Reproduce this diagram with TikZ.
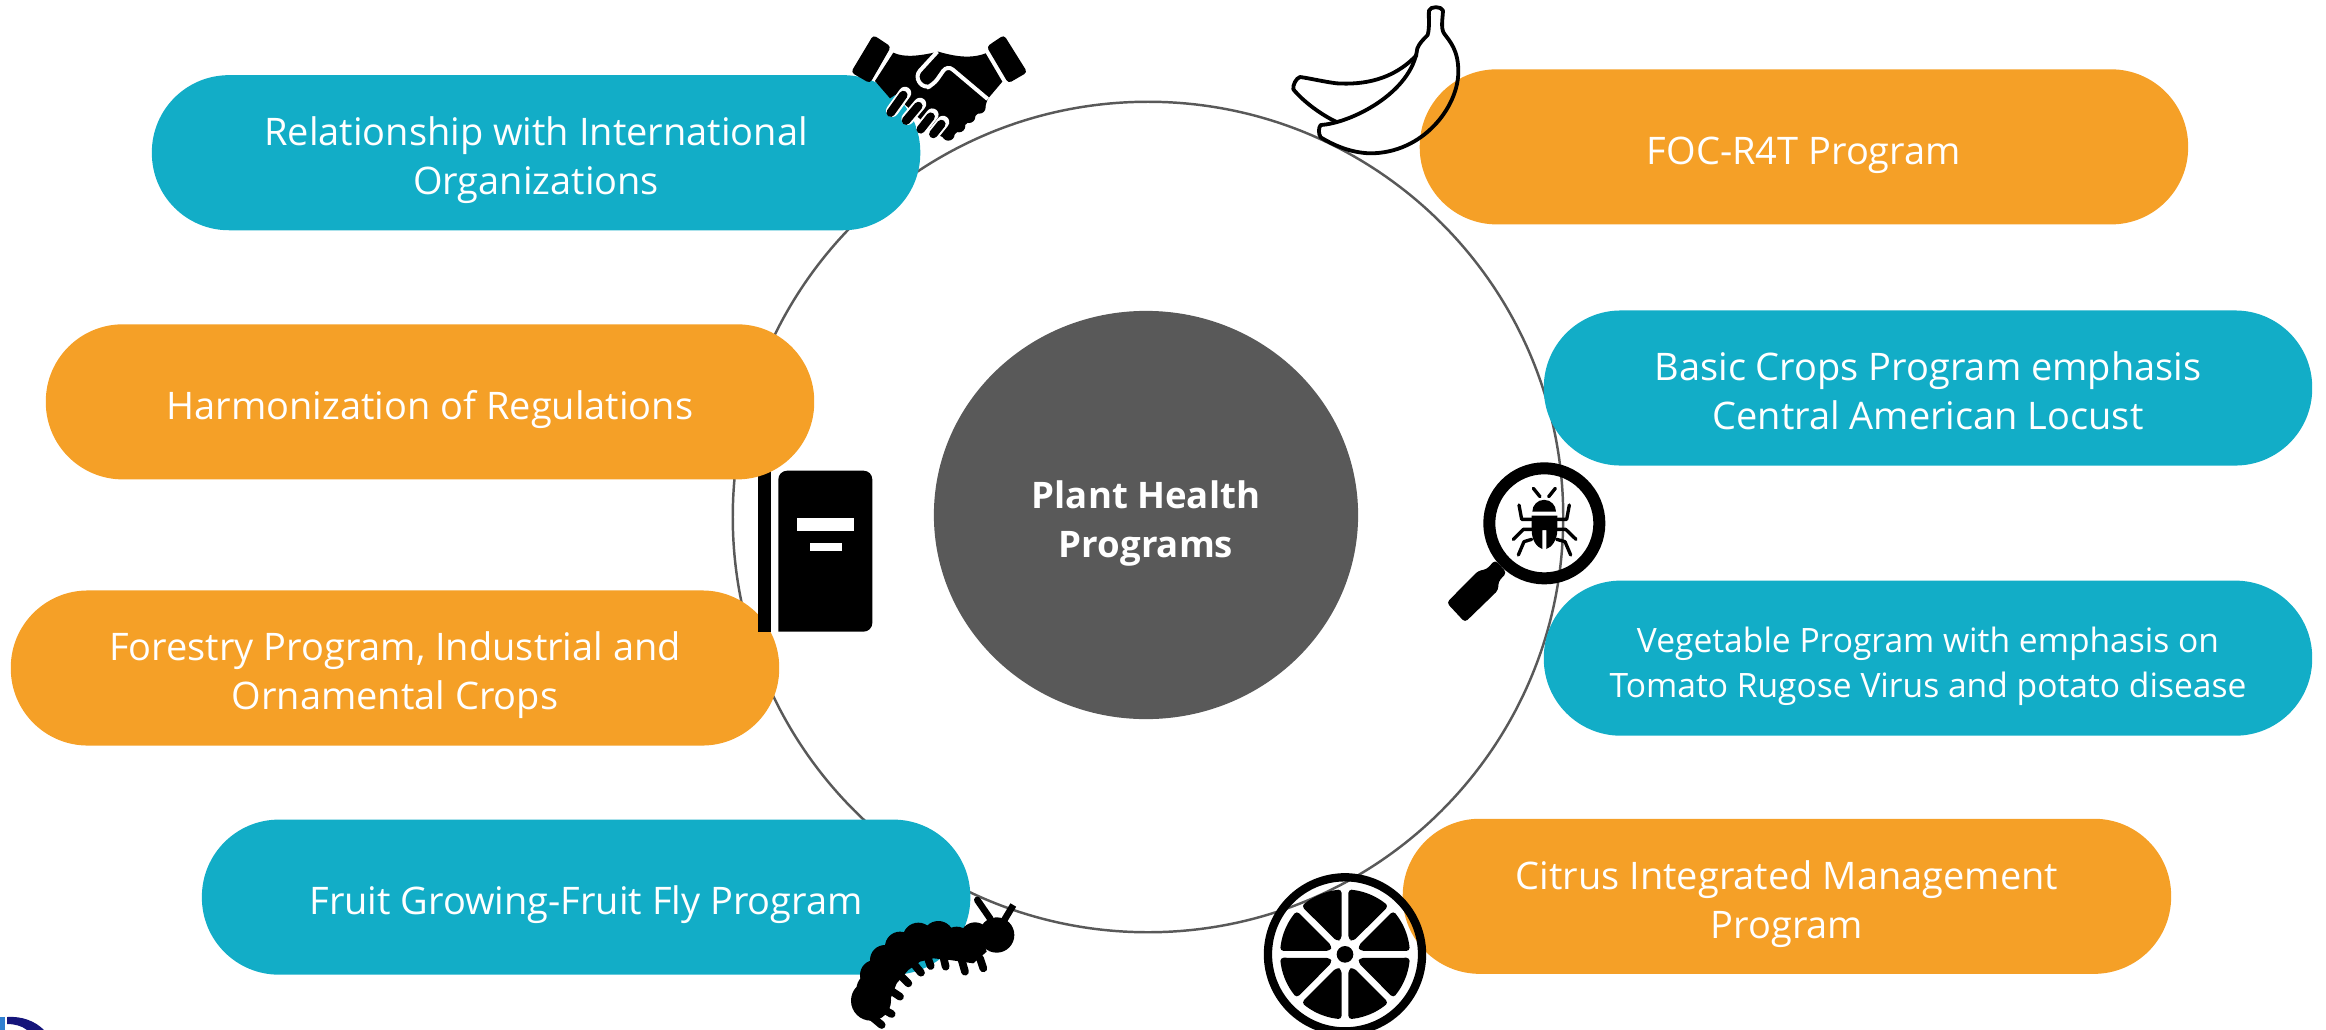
\documentclass[tikz,border=0pt]{standalone}
\usepackage{fontspec}
\setmainfont{Open Sans}
\usetikzlibrary{positioning}
\usetikzlibrary{shapes.geometric}
\definecolor{pillblue}{HTML}{12ADC7}
\definecolor{pillorange}{HTML}{F5A027}
\definecolor{hubgray}{HTML}{595959}
\definecolor{logonavy}{HTML}{14147A}
\definecolor{logoblue}{HTML}{2F7FD0}
\begin{document}
\begin{tikzpicture}[
x=0.01cm, y=-0.01cm,
pill/.style={rectangle, rounded corners=7.7mm, minimum width=7.68cm, minimum height=1.55cm, inner sep=0pt, outer sep=0pt, text=white, align=center, font=\fontsize{10.8}{13.9}\selectfont, execute at begin node={\rule{0pt}{12.5pt}}},
tealpill/.style={pill, fill=pillblue},
orangepill/.style={pill, fill=pillorange},
twolines/.style={execute at begin node={\rule{0pt}{26.4pt}}},
hub/.style={ellipse, fill=hubgray, minimum width=4.24cm, minimum height=4.08cm, inner sep=0pt, text=white, align=center, font=\fontsize{10.4}{13.9}\selectfont\bfseries, twolines},
ringline/.style={circle, draw=hubgray, line width=0.7pt, minimum size=8.3cm, inner sep=0pt},
icon/.style={line cap=round, line join=round},
]
\useasboundingbox (0,0) rectangle (2326,1030);

\node[ringline] (ring) at (1148,517) {};
\node[hub] (plant) at (1146,515) {Plant Health\\Programs};

% logo cut off by the page
\fill[logoblue] (0,1017) rectangle (5,1030);
\fill[logonavy] (7,1017) .. controls (22,1016) and (35,1021) .. (44,1030) -- (27,1030) .. controls (22,1026) and (15,1024) .. (7,1024) -- cycle;

\node[orangepill, twolines] (forest) at (395,668) {Forestry Program, Industrial and\\Ornamental Crops};

% book
\begin{scope}[shift={(740,460)}, scale=1/3]
\fill (55,32) rectangle (92,515);
\fill[rounded corners=2.5pt] (115,515) -- (397,515) -- (397,32) -- (115,32) [sharp corners] -- cycle;
\fill[white] (170,175) rectangle (342,212);
\fill[white] (210,250) rectangle (305,272);
\end{scope}

\node[orangepill] (harmon) [above=1.11cm of forest, xshift=3.5mm] {Harmonization of Regulations};
\node[tealpill, twolines] (relation) [above=0.94cm of harmon, xshift=10.6mm] {Relationship with International\\Organizations};
\node[tealpill] (fruit) [below=0.74cm of forest, xshift=19.1mm] {Fruit Growing-Fruit Fly Program};

\node[tealpill, execute at begin node={\rule{0pt}{23.9pt}}] (basic) at (1928,388) {Basic Crops Program emphasis\\Central American Locust};
\node[tealpill, execute at begin node={\rule{0pt}{24.4pt}}, font=\fontsize{9.55}{12.8}\selectfont] (veg) [below=1.15cm of basic] {Vegetable Program with emphasis on\\Tomato Rugose Virus and potato disease};
\node[orangepill] (foc) [above=0.86cm of basic, xshift=-12.4mm] {FOC-R4T Program};
\node[orangepill, twolines] (citrus) [below=0.83cm of veg, xshift=-14.1mm] {Citrus Integrated Management\\Program};

% handshake
\begin{scope}[shift={(820,0)}, scale=1/3]
\fill[rounded corners=1pt] (160,105) -- (213,140) -- (150,250) -- (93,217) -- cycle;
\fill[rounded corners=1pt] (552,105) -- (500,140) -- (565,250) -- (622,217) -- cycle;
\fill (220,158) .. controls (250,172) and (290,170) .. (355,155) .. controls (400,168) and (450,178) .. (497,160) -- (547,245) -- (503,297) -- (495,322) -- (385,420) -- (345,400) -- (225,285) -- (210,295) -- (165,243) -- cycle;
\foreach \cx/\cy in {478/322, 447/350, 417/378, 385/403}
  \fill (\cx,\cy) circle[radius=0.19cm];
\draw[white, line width=0.4mm, rounded corners=2pt] (352,155) -- (285,228) -- (312,266) -- (340,255) -- (382,195) -- (503,297);
\foreach \ax/\ay/\bx/\by in {212/338/250/285, 258/362/295/318, 302/388/332/350, 340/402/364/372} {
  \draw[white, line width=1.25mm, line cap=round] (\ax+5,\ay-6) -- (\bx+5,\by-6);
  \draw[line width=0.85mm, line cap=round] (\ax,\ay) -- (\bx,\by);
}
\end{scope}

% banana
\begin{scope}[shift={(1280,0)}, scale=1/3]
\draw[icon, line width=0.38mm] (443,105) .. controls (450,80) and (445,50) .. (447,32) .. controls (450,18) and (485,18) .. (489,32) .. controls (488,55) and (482,85) .. (492,100) .. controls (510,125) and (535,150) .. (535,215) .. controls (535,320) and (430,460) .. (270,460) .. controls (210,458) and (160,435) .. (122,412) .. controls (115,400) and (115,385) .. (122,375) .. controls (210,370) and (395,280) .. (412,145) .. controls (418,130) and (430,118) .. (443,105) -- cycle;
\draw[icon, line width=0.38mm] (410,165) .. controls (340,240) and (250,255) .. (170,250) .. controls (130,245) and (90,235) .. (60,231) .. controls (48,235) and (38,255) .. (40,268) .. controls (70,305) and (125,345) .. (168,365);
\end{scope}

% magnifier with bug
\begin{scope}[shift={(1420,450)}, scale=1/3]
\draw[line width=1.2mm] (373,220) circle[radius=1.65cm];
\fill[rounded corners=1pt] (225,330) -- (260,368) -- (235,395) -- (235,420) -- (135,517) -- (80,458) -- (175,362) -- (200,358) -- cycle;
\fill (337,185) arc[start angle=180, end angle=0, radius=0.355cm] -- cycle;
\fill (335,197) -- (412,197) -- (412,240) .. controls (412,270) and (395,292) .. (379,297) -- (379,240) -- (367,240) -- (367,297) .. controls (350,292) and (335,270) .. (335,240) -- cycle;
\draw[icon, line width=0.95pt] (340,115) -- (360,140);
\draw[icon, line width=0.95pt] (406,115) -- (386,140);
\draw[icon, line width=0.95pt] (297,165) -- (305,208) -- (335,208);
\draw[icon, line width=0.95pt] (448,165) -- (440,208) -- (412,208);
\draw[icon, line width=0.95pt] (280,268) -- (310,238) -- (335,238);
\draw[icon, line width=0.95pt] (468,268) -- (437,238) -- (412,238);
\draw[icon, line width=0.95pt] (295,315) -- (312,275) -- (335,268);
\draw[icon, line width=0.95pt] (452,315) -- (435,275) -- (410,268);
\end{scope}

% citrus slice
\begin{scope}[shift={(1250,860)}, scale=1/3]
\draw[line width=0.83mm] (285,283) circle[radius=2.31cm];
\fill (285,283) circle[radius=0.25cm];
\foreach \a in {0,45,...,315}
  \fill[shift={(285,283)}, rounded corners=1pt] (\a+13:46) -- plot[domain=\a+3:\a+42, samples=8] (\x:195) -- (\a+32:46) -- cycle;
\end{scope}

% caterpillar
\begin{scope}[shift={(840,880)}, scale=1/3]
\foreach \cx/\cy/\r in {470/165/0.53, 405/172/0.45, 350/185/0.45, 295/170/0.47, 235/175/0.47, 180/200/0.45, 135/240/0.45, 105/285/0.45, 95/325/0.45, 93/362/0.6}
  \fill (\cx,\cy) circle[radius=\r cm];
\fill (440,215) -- (400,250) -- (330,240) -- (280,235) -- (240,245) -- (205,270) -- (170,310) -- (150,360) -- (130,405) -- (70,380) -- (90,250) -- (235,150) -- (420,150) -- cycle;
\foreach \ax/\ay/\bx/\by in {430/265/420/235, 375/275/365/240, 317/260/310/230, 272/258/262/230, 243/278/220/250, 205/310/180/285, 180/350/150/330, 155/402/125/385, 125/435/95/410}
  \draw[line width=2.2pt, line cap=round] (\ax,\ay) -- (\bx,\by);
\draw[line width=1.9pt, line cap=round] (412,60) -- (450,115);
\draw[line width=1.9pt] (520,75) -- (490,125);
\end{scope}
\end{tikzpicture}
\end{document}
